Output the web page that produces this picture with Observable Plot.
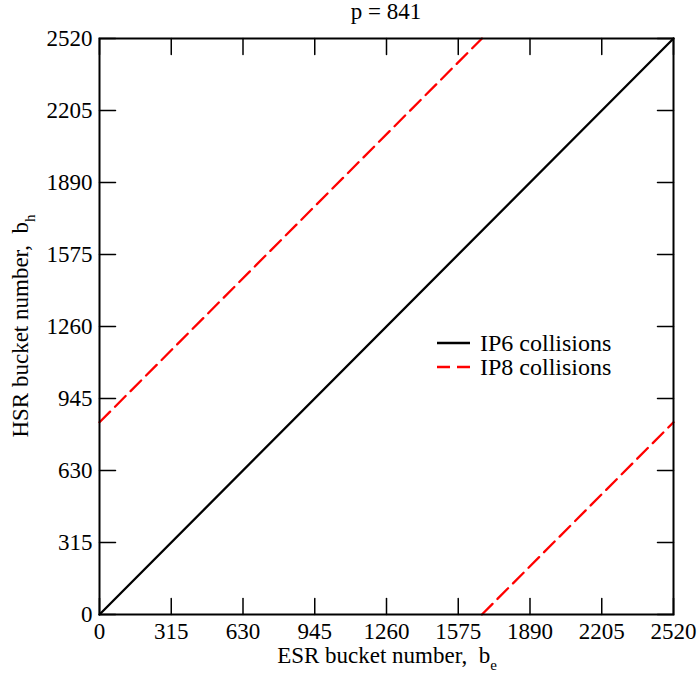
<!DOCTYPE html>
<html>
<head>
<meta charset="utf-8">
<script src="https://cdn.jsdelivr.net/npm/d3@7"></script>
<script src="https://cdn.jsdelivr.net/npm/@observablehq/plot@0.6"></script>
<style>
  html, body { margin: 0; padding: 0; background: #fff; }
  #chart { position: relative; width: 698px; height: 673px; }
</style>
</head>
<body>
<div id="chart"></div>
<script>
// ---- data ----
const title = "p = 841";
const tickValues = [0, 315, 630, 945, 1260, 1575, 1890, 2205, 2520];
const ip6X = [0, 2520];
const ip6Y = [0, 2520];
const ip8UpperX = [0, 1679];
const ip8UpperY = [841, 2520];
const ip8LowerX = [1679, 2520];
const ip8LowerY = [0, 841];
const seriesNames = ["IP6 collisions", "IP8 collisions"];

(function () {
const FONT = "'Liberation Serif', 'Times New Roman', serif";

const ip6 = ip6X.map((x, i) => ({x, y: ip6Y[i], s: "a"}));
const ip8 = [
  ...ip8UpperX.map((x, i) => ({x, y: ip8UpperY[i], s: "upper"})),
  ...ip8LowerX.map((x, i) => ({x, y: ip8LowerY[i], s: "lower"}))
];

const tickShape = {draw(context, l) { context.moveTo(0, 0); context.lineTo(0, -l); }};
const tickOpts = {length: 16, anchor: "start", shape: tickShape, stroke: "black", strokeWidth: 1.5};

const plot = Plot.plot({
  width: 698,
  height: 673,
  marginLeft: 99,
  marginRight: 25,
  marginTop: 38,
  marginBottom: 59,
  style: {fontFamily: FONT, fontSize: "23px", color: "black", background: "white"},
  x: {domain: [0, 2520]},
  y: {domain: [0, 2520]},
  marks: [
    Plot.line(ip6, {x: "x", y: "y", stroke: "black", strokeWidth: 2.3}),
    Plot.line(ip8, {x: "x", y: "y", z: "s", stroke: "red", strokeWidth: 2.3, strokeDasharray: "15,7"}),
    Plot.vector(tickValues, {x: d => d, frameAnchor: "bottom", rotate: 0, ...tickOpts}),
    Plot.vector(tickValues, {x: d => d, frameAnchor: "top", rotate: 180, ...tickOpts}),
    Plot.vector(tickValues, {y: d => d, frameAnchor: "left", rotate: 90, ...tickOpts}),
    Plot.vector(tickValues, {y: d => d, frameAnchor: "right", rotate: -90, ...tickOpts}),
    Plot.axisX(tickValues, {tickSize: 0, tickPadding: 8, tickFormat: d => String(d), label: null, fontSize: 23}),
    Plot.axisY(tickValues, {tickSize: 0, tickPadding: 7, tickFormat: d => String(d), label: null, fontSize: 23}),
    Plot.frame({stroke: "black", strokeWidth: 2})
  ]
});

document.getElementById("chart").appendChild(plot);

const svg = d3.select(plot);
const xs = plot.scale("x"), ys = plot.scale("y");
const fLeft = xs.range[0], fRight = xs.range[1];
const fBottom = ys.range[0], fTop = ys.range[1];
const cx = (fLeft + fRight) / 2, cy = (fTop + fBottom) / 2;

// title
svg.append("text")
  .attr("x", cx).attr("y", 19)
  .attr("text-anchor", "middle")
  .style("font-family", FONT).style("font-size", "23px")
  .text(title);

// x label
const xl = svg.append("text")
  .attr("x", cx + 1).attr("y", 663)
  .attr("text-anchor", "middle")
  .style("font-family", FONT).style("font-size", "23px");
xl.append("tspan").text("ESR bucket number,\u00a0\u00a0b");
xl.append("tspan").attr("dy", 7).style("font-size", "15px").text("e");

// y label
const yl = svg.append("text")
  .attr("transform", `translate(28,${cy}) rotate(-90)`)
  .attr("text-anchor", "middle")
  .style("font-family", FONT).style("font-size", "23px");
yl.append("tspan").text("HSR bucket number,\u00a0\u00a0b");
yl.append("tspan").attr("dy", 7).style("font-size", "15px").text("h");

// legend
const lg = svg.append("g")
  .attr("text-anchor", "start")
  .style("font-family", FONT).style("font-size", "24px");
const legendItems = [
  {name: seriesNames[0], stroke: "black", dash: null, y: 343},
  {name: seriesNames[1], stroke: "red", dash: "13,7", y: 367}
];
for (const it of legendItems) {
  lg.append("line")
    .attr("x1", 437).attr("x2", 470).attr("y1", it.y).attr("y2", it.y)
    .attr("stroke", it.stroke).attr("stroke-width", 2.3)
    .attr("stroke-dasharray", it.dash);
  lg.append("text")
    .attr("x", 480).attr("y", it.y + 7.5)
    .attr("text-anchor", "start")
    .text(it.name);
}
})();
</script>
</body>
</html>
